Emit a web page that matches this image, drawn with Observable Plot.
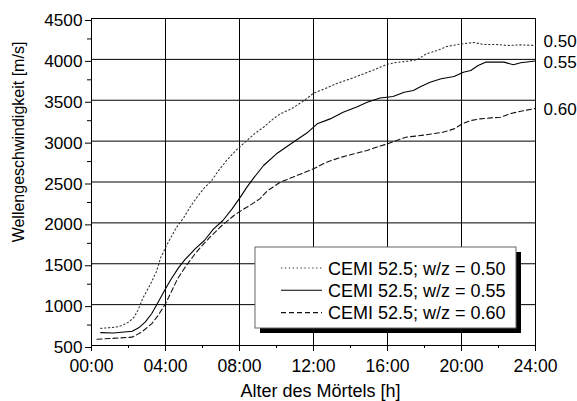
<!DOCTYPE html>
<html>
<head>
<meta charset="utf-8">
<script src="https://cdn.jsdelivr.net/npm/d3@7"></script>
<script src="https://cdn.jsdelivr.net/npm/@observablehq/plot@0.6"></script>
<style>
  body { margin: 0; background: #fff; }
  #chart { width: 577px; height: 401px; }
</style>
</head>
<body>
<div id="chart"></div>
<script>
// Water/cement ratios of the three mortar mixes
const ratios = ["0.50", "0.55", "0.60"];
const legendLabels = ratios.map(r => `CEMI 52.5; w/z = ${r}`);

// Axis ticks
const xTicks = [0, 4, 8, 12, 16, 20, 24];
const xMinor = [2, 6, 10, 14, 18, 22];
const yTicks = [500, 1000, 1500, 2000, 2500, 3000, 3500, 4000, 4500];
const yMinor = [750, 1250, 1750, 2250, 2750, 3250, 3750, 4250];

// Ultrasonic pulse velocity [m/s] against mortar age [h], w/z = 0.50
const hours050 = [0.5, 1.3, 1.65, 2.0, 2.3, 2.5, 2.8, 3.2, 3.5, 3.75, 4.1, 4.6, 5.0, 5.35, 5.7, 6.1, 6.5, 6.8, 7.3, 7.8, 8.3, 8.8, 9.3, 9.7, 10.2, 10.8, 11.5, 12.0, 12.6, 13.3, 14.0, 14.7, 15.4, 16.0, 16.4, 17.1, 17.6, 18.1, 18.7, 19.2, 19.8, 20.3, 20.7, 21.2, 21.9, 22.5, 23.2, 24.0];
const speed050 = [710, 724, 745, 785, 846, 928, 1090, 1256, 1400, 1580, 1744, 1947, 2069, 2200, 2314, 2429, 2518, 2620, 2763, 2885, 2987, 3089, 3170, 3250, 3334, 3395, 3497, 3586, 3640, 3709, 3762, 3823, 3884, 3940, 3960, 3978, 3995, 4068, 4109, 4157, 4182, 4198, 4206, 4182, 4182, 4170, 4178, 4170];

// w/z = 0.55
const hours055 = [0.5, 1.2, 2.2, 2.55, 2.9, 3.25, 3.6, 4.0, 4.3, 4.7, 5.05, 5.35, 5.6, 6.1, 6.6, 7.1, 7.6, 8.0, 8.4, 8.8, 9.3, 10.0, 10.9, 11.7, 12.2, 12.9, 13.6, 14.4, 14.9, 15.6, 16.3, 16.9, 17.4, 17.8, 18.3, 18.9, 19.6, 20.1, 20.5, 20.9, 21.3, 21.75, 22.3, 22.8, 23.2, 24.0];
const speed055 = [658, 652, 675, 716, 785, 888, 1030, 1193, 1310, 1450, 1550, 1622, 1683, 1784, 1927, 2029, 2172, 2300, 2437, 2559, 2702, 2845, 2987, 3109, 3212, 3272, 3354, 3423, 3476, 3527, 3546, 3598, 3619, 3668, 3721, 3762, 3790, 3843, 3864, 3925, 3966, 3966, 3966, 3934, 3958, 3980];

// w/z = 0.60
const hours060 = [0.3, 1.0, 2.2, 2.7, 3.25, 3.6, 4.0, 4.35, 4.65, 5.1, 5.6, 5.9, 6.4, 7.05, 7.7, 8.1, 8.6, 9.1, 9.5, 10.2, 11.1, 12.0, 12.7, 13.5, 14.2, 14.9, 15.4, 16.0, 17.0, 18.1, 19.0, 19.6, 20.1, 20.5, 21.0, 21.6, 22.1, 22.6, 23.2, 24.0];
const speed060 = [577, 585, 602, 663, 765, 867, 1010, 1173, 1316, 1470, 1622, 1702, 1825, 1968, 2090, 2151, 2220, 2294, 2390, 2497, 2579, 2661, 2742, 2803, 2845, 2885, 2926, 2967, 3048, 3077, 3109, 3150, 3219, 3252, 3272, 3284, 3292, 3334, 3366, 3400];

const xTitle = "Alter des Mörtels [h]";
const yTitle = "Wellengeschwindigkeit [m/s]";

const seriesHours = [hours050, hours055, hours060];
const seriesSpeed = [speed050, speed055, speed060];
const series = ratios.map((r, i) =>
  seriesHours[i].map((h, j) => ({ratio: r, h, v: seriesSpeed[i][j]}))
);

// Line styles per mix: dotted, solid, dashed
const dashes = ["1.3,2.6", null, "5,3"];
const strokes = ["#333", "#000", "#111"];
// small vertical nudges keep the end labels apart
const labelDy = [-4, 2, 1];

const font = "'Liberation Sans', Arial, Helvetica, sans-serif";
const hhmm = h => String(h).padStart(2, "0") + ":00";

const plot = Plot.plot({
  width: 577,
  height: 401,
  marginLeft: 91,
  marginRight: 42,
  marginTop: 18,
  marginBottom: 56,
  style: {fontFamily: font, fontSize: "17px", color: "#000", background: "#fff"},
  x: {domain: [0, 24]},
  y: {domain: [500, 4500]},
  marks: [
    Plot.gridX(xTicks.slice(1, -1), {stroke: "#000", strokeOpacity: 1}),
    Plot.gridY(yTicks.slice(1, -1), {stroke: "#000", strokeOpacity: 1}),
    Plot.frame({stroke: "#000"}),
    Plot.axisX({ticks: xTicks, tickSize: 6, tickPadding: 8, tickFormat: hhmm, label: null, fontSize: 17.6}),
    Plot.axisX({ticks: xMinor, tickSize: 3, tickFormat: () => "", label: null}),
    Plot.axisY({ticks: yTicks, tickSize: 6, tickPadding: 3, tickFormat: d => String(d), label: null, fontSize: 17.2, dy: 2}),
    Plot.axisY({ticks: yMinor, tickSize: 4, tickFormat: () => "", label: null}),
    ...series.map((d, i) => Plot.line(d, {
      x: "h", y: "v",
      stroke: strokes[i],
      strokeWidth: 1.1,
      strokeDasharray: dashes[i]
    })),
    // ratio labels next to the curve ends
    ...series.map((d, i) => Plot.text(d.slice(-1), {
      x: "h", y: "v", text: "ratio",
      textAnchor: "start", dx: 8, dy: labelDy[i], fontSize: 17
    })),
    Plot.text([xTitle], {frameAnchor: "bottom", text: d => d, textAnchor: "middle", lineAnchor: "middle", dx: 7, dy: 46, fontSize: 18}),
    Plot.text([yTitle], {frameAnchor: "left", text: d => d, rotate: -90, textAnchor: "middle", lineAnchor: "middle", dx: -73, dy: -40, fontSize: 16})
  ]
});

// Boxed legend with a drop shadow, lower right of the plot area
const svg = d3.select(plot);
const lg = svg.append("g").attr("font-family", font).attr("font-size", 18).attr("text-anchor", "start");
const bx = 255, by = 247, bw = 261, bh = 81;
lg.append("rect").attr("x", bx + 5).attr("y", by + 5).attr("width", bw).attr("height", bh).attr("fill", "#000");
lg.append("rect").attr("x", bx).attr("y", by).attr("width", bw).attr("height", bh)
  .attr("fill", "#fff").attr("stroke", "#666").attr("stroke-width", 1);
legendLabels.forEach((t, i) => {
  const cy = by + 21 + i * 22.3;
  lg.append("line").attr("x1", bx + 26).attr("x2", bx + 67).attr("y1", cy).attr("y2", cy)
    .attr("stroke", strokes[i]).attr("stroke-width", 1.1)
    .attr("stroke-dasharray", dashes[i]);
  lg.append("text").attr("x", bx + 73).attr("y", cy + 6.5).attr("fill", "#000").text(t);
});

document.getElementById("chart").append(plot);
</script>
</body>
</html>
